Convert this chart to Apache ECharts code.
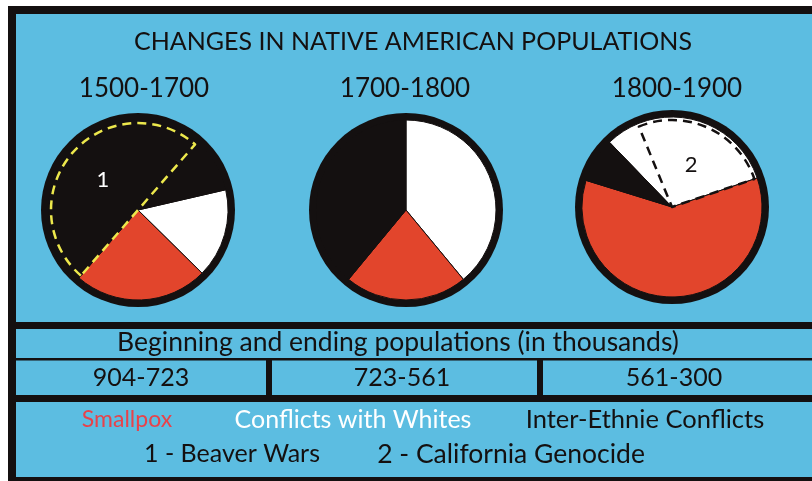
<!DOCTYPE html>
<html>
<head>
<meta charset="utf-8">
<script src="https://cdn.jsdelivr.net/npm/echarts@6/dist/echarts.min.js"></script>
<style>
  html, body { margin: 0; padding: 0; background: #ffffff; }
  #chart { width: 812px; height: 481px; }
</style>
</head>
<body>
<div id="chart"></div>
<script>
// Données
var periods = ['1500-1700', '1700-1800', '1800-1900'];
var populations = ['904-723', '723-561', '561-300'];
var categories = ['Conflicts with Whites', 'Smallpox', 'Inter-Ethnie Conflicts'];
var whites = [16, 39, 32];
var smallpox = [24, 22, 60];
var interEthnic = [60, 39, 8];
// part du conflit marqué (1 = Beaver Wars, 2 = California Genocide)
var eventMarks = ['1', '', '2'];
var eventShare = [50, 0, 26];
var eventOffset = [40, 0, 6];
var events = ['1 - Beaver Wars', '2 - California Genocide'];

var BLUE = '#5cbde1';
var BLACK = '#141010';
var RED = '#e2452c';
var FONT = 'Lato';

var centers = [[138, 210], [406, 210], [672, 207]];
var startAngles = [13, 90, 134];
var colors = ['#ffffff', RED, BLACK];

var chartDom = document.getElementById('chart');
var myChart = echarts.init(chartDom);

var series = [];
periods.forEach(function(p, i) {
    // anneau noir autour de chaque camembert
    series.push({
        type: 'pie', silent: true, center: centers[i], radius: 97,
        label: { show: false }, labelLine: { show: false },
        itemStyle: { color: BLACK },
        data: [{ value: 1, name: 'ring' }]
    });
    series.push({
        name: p, type: 'pie', silent: true, center: centers[i], radius: 90,
        startAngle: startAngles[i], clockwise: true,
        label: { show: false }, labelLine: { show: false },
        itemStyle: { borderColor: BLACK, borderWidth: 1 },
        data: [whites[i], smallpox[i], interEthnic[i]].map(function(v, k) {
            return { value: v, name: categories[k], itemStyle: { color: colors[k] } };
        })
    });
    if (eventShare[i] > 0) {
        var dashColor = i === 0 ? '#ede84c' : BLACK;
        series.push({
            type: 'pie', silent: true, center: centers[i], radius: 87,
            startAngle: startAngles[i], clockwise: true,
            labelLine: { show: false },
            data: [
                { value: eventOffset[i], itemStyle: { color: 'transparent', borderWidth: 0 }, label: { show: false } },
                { value: eventShare[i], name: eventMarks[i],
                  itemStyle: { color: 'transparent', borderColor: dashColor, borderWidth: 2.5, borderType: [9, 6] },
                  label: { show: true, position: 'inside', formatter: '{b}', color: i === 0 ? '#ffffff' : BLACK,
                           fontSize: 22, fontFamily: FONT } },
                { value: 100 - eventOffset[i] - eventShare[i], itemStyle: { color: 'transparent', borderWidth: 0 }, label: { show: false } }
            ]
        });
    }
});

function txt(text, x, y, size, color) {
    return {
        type: 'text', x: x, y: y, silent: true,
        style: { text: text, fill: color || BLACK, fontSize: size, fontFamily: FONT,
                 align: 'center', verticalAlign: 'middle' }
    };
}
function rect(x, y, w, h, fill) {
    return { type: 'rect', silent: true, shape: { x: x, y: y, width: w, height: h }, style: { fill: fill } };
}

var graphics = [
    { type: 'rect', silent: true, z: -10, shape: { x: 12, y: 10, width: 812, height: 471 },
      style: { fill: BLUE, stroke: BLACK, lineWidth: 8 } },
    rect(12, 322, 800, 7, BLACK),
    rect(12, 358, 800, 2.5, BLACK),
    rect(12, 395, 800, 7, BLACK),
    rect(266, 359, 6, 38, BLACK),
    rect(537, 359, 6, 38, BLACK),
    txt('CHANGES IN NATIVE AMERICAN POPULATIONS', 413, 42, 25),
    txt('Beginning and ending populations (in thousands)', 398, 342, 26.5),
    txt('Smallpox', 127, 420, 23, '#e8424a'),
    txt('Conflicts with Whites', 353, 420, 25, '#ffffff'),
    txt('Inter-Ethnie Conflicts', 645, 420, 25.5),
    txt(events[0], 232, 454, 25),
    txt(events[1], 511, 454, 26.5)
];
var labelX = [144, 405, 677];
periods.forEach(function(p, i) {
    graphics.push(txt(p, labelX[i], 89, 26));
    graphics.push(txt(populations[i], labelX[i] - 3, 378, 25));
});

var option = {
    backgroundColor: '#ffffff',
    animation: false,
    graphic: graphics,
    series: series
};

myChart.setOption(option);
</script>
</body>
</html>
